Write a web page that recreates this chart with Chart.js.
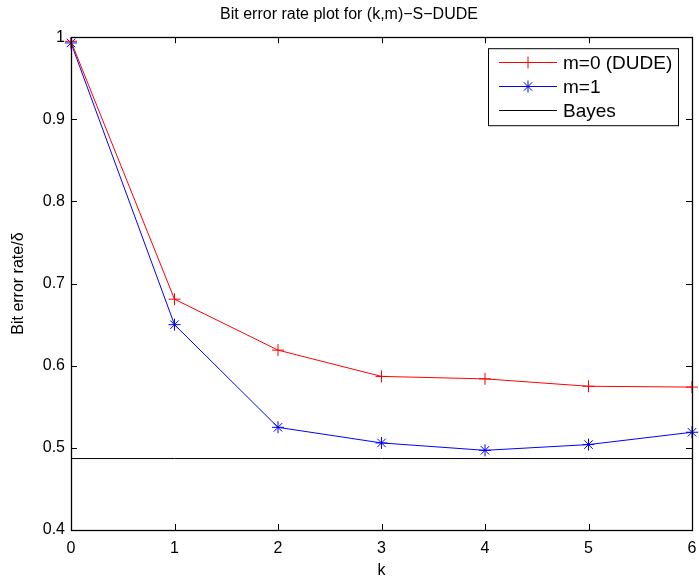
<!DOCTYPE html>
<html>
<head>
<meta charset="utf-8">
<script src="https://cdn.jsdelivr.net/npm/chart.js@4"></script>
<style>
  html, body { margin: 0; padding: 0; background: #fff; }
  #wrap { width: 699px; height: 577px; }
</style>
</head>
<body>
<div id="wrap"><canvas id="ber"></canvas></div>
<script>
const kValues = ['0', '1', '2', '3', '4', '5', '6'];
const dudeBer = [0.995, 0.681, 0.619, 0.587, 0.584, 0.575, 0.574];
const sdudeBer = [0.993, 0.650, 0.525, 0.506, 0.497, 0.504, 0.519];
const bayesBer = [0.487, 0.487, 0.487, 0.487, 0.487, 0.487, 0.487];
const yTicks = [0.4, 0.5, 0.6, 0.7, 0.8, 0.9, 1];

const FONT = '"Liberation Sans", Arial, Helvetica, sans-serif';

// matlab style: inward ticks on all four sides + box + legend inside
const matlabBox = {
  id: 'matlabBox',
  afterDatasetsDraw(chart) {
    const ctx = chart.ctx;
    const a = chart.chartArea;
    const xs = chart.scales.x, ys = chart.scales.y;
    const len = 6;
    ctx.save();
    ctx.strokeStyle = '#000';
    ctx.lineWidth = 1;
    ctx.beginPath();
    xs.ticks.forEach((t, i) => {
      const px = Math.round(xs.getPixelForTick(i)) + 0.5;
      ctx.moveTo(px, a.bottom); ctx.lineTo(px, a.bottom - len);
      ctx.moveTo(px, a.top); ctx.lineTo(px, a.top + len);
    });
    ys.ticks.forEach(t => {
      const py = Math.round(ys.getPixelForValue(t.value)) + 0.5;
      ctx.moveTo(a.left, py); ctx.lineTo(a.left + len, py);
      ctx.moveTo(a.right, py); ctx.lineTo(a.right - len, py);
    });
    ctx.stroke();
    ctx.lineWidth = 1.3;
    ctx.strokeRect(Math.round(a.left) + 0.5, Math.round(a.top) + 0.5,
      Math.round(a.right - a.left), Math.round(a.bottom - a.top));

    // legend
    ctx.lineWidth = 1;
    const bx = a.right - 204, by = a.top + 11, bw = 190, bh = 77;
    ctx.fillStyle = '#fff';
    ctx.fillRect(bx, by, bw, bh);
    ctx.strokeRect(bx + 0.5, by + 0.5, bw, bh);
    ctx.font = '19px ' + FONT;
    ctx.textBaseline = 'middle';
    chart.data.datasets.forEach((ds, i) => {
      const y = Math.round(by + 14 + i * 24) + 0.5;
      ctx.strokeStyle = ds.borderColor;
      ctx.beginPath();
      ctx.moveTo(bx + 11, y); ctx.lineTo(bx + 69, y);
      ctx.stroke();
      if (ds.pointRadius > 0) {
        Chart.helpers.drawPoint(ctx, {
          pointStyle: ds.pointStyle, radius: ds.pointRadius,
          borderWidth: 1, rotation: 0
        }, bx + 40, y);
      }
      ctx.fillStyle = '#000';
      ctx.fillText(ds.label, bx + 75, y + 1);
    });
    ctx.restore();
  }
};

new Chart(document.getElementById('ber'), {
  type: 'line',
  data: {
    labels: kValues,
    datasets: [
      {
        label: 'm=0 (DUDE)',
        data: dudeBer,
        borderColor: '#ff0000',
        backgroundColor: '#ff0000',
        borderWidth: 1,
        pointStyle: 'cross',
        pointRadius: 6,
        pointBorderWidth: 1,
        tension: 0
      },
      {
        label: 'm=1',
        data: sdudeBer,
        borderColor: '#0000ff',
        backgroundColor: '#0000ff',
        borderWidth: 1,
        pointStyle: 'star',
        pointRadius: 6,
        pointBorderWidth: 1,
        tension: 0
      },
      {
        label: 'Bayes',
        data: bayesBer,
        borderColor: '#000000',
        borderWidth: 1,
        pointRadius: 0,
        tension: 0
      }
    ]
  },
  options: {
    responsive: true,
    maintainAspectRatio: false,
    animation: false,
    events: [],
    layout: { padding: { left: 0, right: 1, top: 0, bottom: 0 } },
    plugins: {
      legend: { display: false },
      tooltip: { enabled: false },
      title: {
        display: true,
        text: 'Bit error rate plot for (k,m)\u2212S\u2212DUDE',
        color: '#000',
        font: { family: FONT, size: 16, weight: 'normal' },
        padding: { top: 5, bottom: 13 }
      }
    },
    scales: {
      x: {
        type: 'category',
        offset: false,
        grid: { display: false, drawTicks: false },
        border: { display: false },
        ticks: { color: '#000', font: { family: FONT, size: 16 }, padding: 9, maxRotation: 0 },
        title: { display: true, text: 'k', color: '#000', font: { family: FONT, size: 16 }, padding: { top: 0, bottom: -3 } },
        afterFit(s) { s.height = 47; s.paddingLeft = 0; s.paddingRight = 0; }
      },
      y: {
        min: 0.4,
        max: 1,
        grid: { display: false, drawTicks: false },
        border: { display: false },
        afterBuildTicks(s) { s.ticks = yTicks.map(v => ({ value: v })); },
        ticks: {
          color: '#000',
          font: { family: FONT, size: 16 },
          padding: 6,
          callback: v => String(Math.round(v * 10) / 10)
        },
        title: { display: true, text: 'Bit error rate/\u03b4', color: '#000', font: { family: FONT, size: 16 }, padding: { top: 9, bottom: 0 } },
        afterFit(s) { s.width = 71; }
      }
    }
  },
  plugins: [matlabBox]
});
</script>
</body>
</html>
